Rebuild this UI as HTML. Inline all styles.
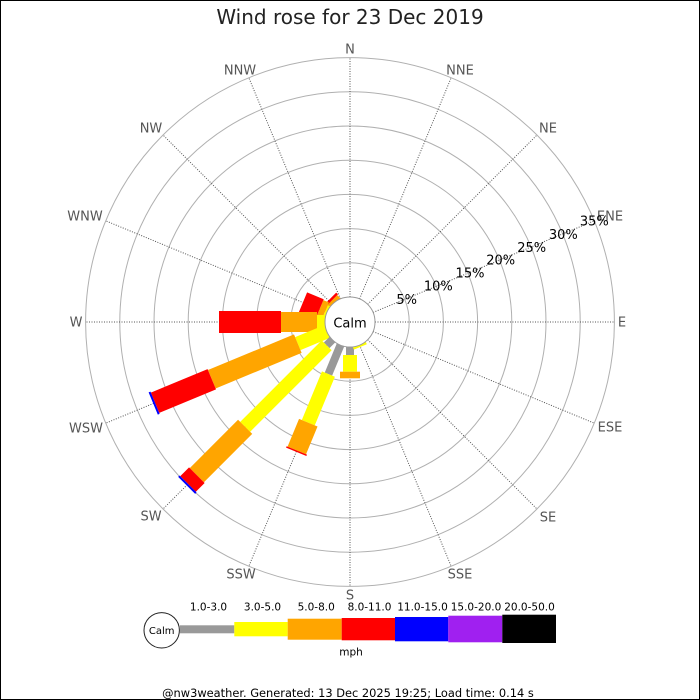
<!DOCTYPE html>
<html>
<head>
<meta charset="utf-8">
<style>
html,body{margin:0;padding:0;background:#fff;}
svg{display:block;}
text{font-family:"DejaVu Sans","Liberation Sans",sans-serif;}
</style>
</head>
<body>
<svg width="700" height="700" viewBox="0 0 700 700" xmlns="http://www.w3.org/2000/svg">
<rect x="0" y="0" width="700" height="700" fill="#fff"/>
<rect x="0.5" y="0.5" width="699" height="699" fill="none" stroke="#000" stroke-width="1"/>

<text x="350" y="24" font-size="20" fill="#222" text-anchor="middle">Wind rose for 23 Dec 2019</text>

<!-- grid circles -->
<g fill="none" stroke="#b0b0b0" stroke-width="1">
<circle cx="350" cy="322" r="59.2"/>
<circle cx="350" cy="322" r="93.4"/>
<circle cx="350" cy="322" r="127.6"/>
<circle cx="350" cy="322" r="161.8"/>
<circle cx="350" cy="322" r="196"/>
<circle cx="350" cy="322" r="230.2"/>
<circle cx="350" cy="322" r="264.4"/>
</g>

<!-- spokes -->
<g stroke="#555" stroke-width="1" stroke-dasharray="1 1.5" transform="translate(350,322)">
<line x1="0" y1="-25" x2="0" y2="-264.4" transform="rotate(0)"/>
<line x1="0" y1="-25" x2="0" y2="-264.4" transform="rotate(22.5)"/>
<line x1="0" y1="-25" x2="0" y2="-264.4" transform="rotate(45)"/>
<line x1="0" y1="-25" x2="0" y2="-264.4" transform="rotate(67.5)"/>
<line x1="0" y1="-25" x2="0" y2="-264.4" transform="rotate(90)"/>
<line x1="0" y1="-25" x2="0" y2="-264.4" transform="rotate(112.5)"/>
<line x1="0" y1="-25" x2="0" y2="-264.4" transform="rotate(135)"/>
<line x1="0" y1="-25" x2="0" y2="-264.4" transform="rotate(157.5)"/>
<line x1="0" y1="-25" x2="0" y2="-264.4" transform="rotate(180)"/>
<line x1="0" y1="-25" x2="0" y2="-264.4" transform="rotate(202.5)"/>
<line x1="0" y1="-25" x2="0" y2="-264.4" transform="rotate(225)"/>
<line x1="0" y1="-25" x2="0" y2="-264.4" transform="rotate(247.5)"/>
<line x1="0" y1="-25" x2="0" y2="-264.4" transform="rotate(270)"/>
<line x1="0" y1="-25" x2="0" y2="-264.4" transform="rotate(292.5)"/>
<line x1="0" y1="-25" x2="0" y2="-264.4" transform="rotate(315)"/>
<line x1="0" y1="-25" x2="0" y2="-264.4" transform="rotate(337.5)"/>
</g>

<!-- bars -->
<g transform="translate(350,322)">
  <!-- NW -->
  <g transform="rotate(315)">
    <rect x="-10" y="-28" width="20" height="6" fill="#ffa500"/>
    <rect x="-11" y="-30.5" width="22" height="2.5" fill="#ff0000"/>
  </g>
  <!-- WNW -->
  <g transform="rotate(292.5)">
    <rect x="-7" y="-27" width="14" height="5" fill="#ffff00"/>
    <rect x="-10" y="-33" width="20" height="6" fill="#ffa500"/>
    <rect x="-11" y="-51" width="22" height="18" fill="#ff0000"/>
  </g>
  <!-- W -->
  <g transform="rotate(270)">
    <rect x="-7" y="-33" width="14" height="11" fill="#ffff00"/>
    <rect x="-10" y="-69" width="20" height="36" fill="#ffa500"/>
    <rect x="-11" y="-131" width="22" height="62" fill="#ff0000"/>
  </g>
  <!-- WSW -->
  <g transform="rotate(247.5)">
    <rect x="-7" y="-56.5" width="14" height="34.5" fill="#ffff00"/>
    <rect x="-10" y="-149.6" width="20" height="93.1" fill="#ffa500"/>
    <rect x="-11" y="-211" width="22" height="61.4" fill="#ff0000"/>
    <rect x="-12" y="-213" width="24" height="2" fill="#0000ff"/>
  </g>
  <!-- SW -->
  <g transform="rotate(225)">
    <rect x="-4" y="-33" width="8" height="11" fill="#999999"/>
    <rect x="-7" y="-148.3" width="14" height="115.3" fill="#ffff00"/>
    <rect x="-10" y="-216.6" width="20" height="68.3" fill="#ffa500"/>
    <rect x="-11" y="-229" width="22" height="12.4" fill="#ff0000"/>
    <rect x="-12" y="-231" width="24" height="2" fill="#0000ff"/>
  </g>
  <!-- SSW -->
  <g transform="rotate(202.5)">
    <rect x="-4" y="-56.4" width="8" height="34.4" fill="#999999"/>
    <rect x="-7" y="-109" width="14" height="52.6" fill="#ffff00"/>
    <rect x="-10" y="-139" width="20" height="30" fill="#ffa500"/>
    <rect x="-11" y="-140.5" width="22" height="1.5" fill="#ff0000"/>
  </g>
  <!-- S -->
  <g transform="rotate(180)">
    <rect x="-4" y="-33" width="8" height="11" fill="#999999"/>
    <rect x="-7" y="-49.7" width="14" height="16.7" fill="#ffff00"/>
    <rect x="-10" y="-56.3" width="20" height="6.6" fill="#ffa500"/>
  </g>
  <!-- SSE -->
  <g transform="rotate(157.5)">
    <rect x="-7" y="-27" width="14" height="5" fill="#ffff00"/>
  </g>
</g>

<!-- calm circle -->
<circle cx="350" cy="322" r="25" fill="#fff" stroke="#999" stroke-width="1"/>
<text x="350" y="327.5" font-size="13" fill="#000" text-anchor="middle">Calm</text>

<!-- direction labels -->
<g font-size="13" fill="#555" text-anchor="middle">
<text x="350" y="53.7">N</text>
<text x="460" y="74.7">NNE</text>
<text x="548" y="132.7">NE</text>
<text x="610" y="220.7">ENE</text>
<text x="622" y="326.7">E</text>
<text x="610" y="431.7">ESE</text>
<text x="548" y="521.7">SE</text>
<text x="460" y="578.7">SSE</text>
<text x="350" y="599.7">S</text>
<text x="241" y="578.7">SSW</text>
<text x="151" y="520.7">SW</text>
<text x="86" y="432.7">WSW</text>
<text x="76" y="326.7">W</text>
<text x="85" y="220.7">WNW</text>
<text x="151" y="132.7">NW</text>
<text x="240" y="74.7">NNW</text>
</g>

<!-- percent labels -->
<g font-size="13" fill="#000" text-anchor="middle">
<text x="406.7" y="304">5%</text>
<text x="438.3" y="290.7">10%</text>
<text x="470" y="277.4">15%</text>
<text x="500.7" y="264.7">20%</text>
<text x="531.7" y="252">25%</text>
<text x="563.3" y="239">30%</text>
<text x="594.3" y="225.7">35%</text>
</g>

<!-- legend -->
<circle cx="161.7" cy="630.3" r="17.7" fill="#fff" stroke="#222" stroke-width="1"/>
<text x="161.7" y="634" font-size="10" fill="#000" text-anchor="middle">Calm</text>
<rect x="180" y="625.3" width="54.3" height="8" fill="#999999"/>
<rect x="234.3" y="622" width="53.4" height="14.3" fill="#ffff00"/>
<rect x="287.7" y="618.7" width="54" height="21" fill="#ffa500"/>
<rect x="341.7" y="618" width="53.3" height="22.3" fill="#ff0000"/>
<rect x="395" y="617" width="53.3" height="24.3" fill="#0000ff"/>
<rect x="448.3" y="615.7" width="54" height="26.6" fill="#a020f0"/>
<rect x="502.3" y="614.7" width="53.7" height="28.3" fill="#000000"/>
<g font-size="10.5" fill="#000" text-anchor="middle">
<text x="208.5" y="610.7">1.0-3.0</text>
<text x="262.5" y="610.7">3.0-5.0</text>
<text x="316.2" y="610.7">5.0-8.0</text>
<text x="369.5" y="610.7">8.0-11.0</text>
<text x="422.5" y="610.7">11.0-15.0</text>
<text x="476" y="610.7">15.0-20.0</text>
<text x="529.5" y="610.7">20.0-50.0</text>
<text x="351" y="655.5">mph</text>
</g>

<text x="348" y="697" font-size="11.4" fill="#000" text-anchor="middle">@nw3weather. Generated: 13 Dec 2025 19:25; Load time: 0.14 s</text>
</svg>
</body>
</html>
